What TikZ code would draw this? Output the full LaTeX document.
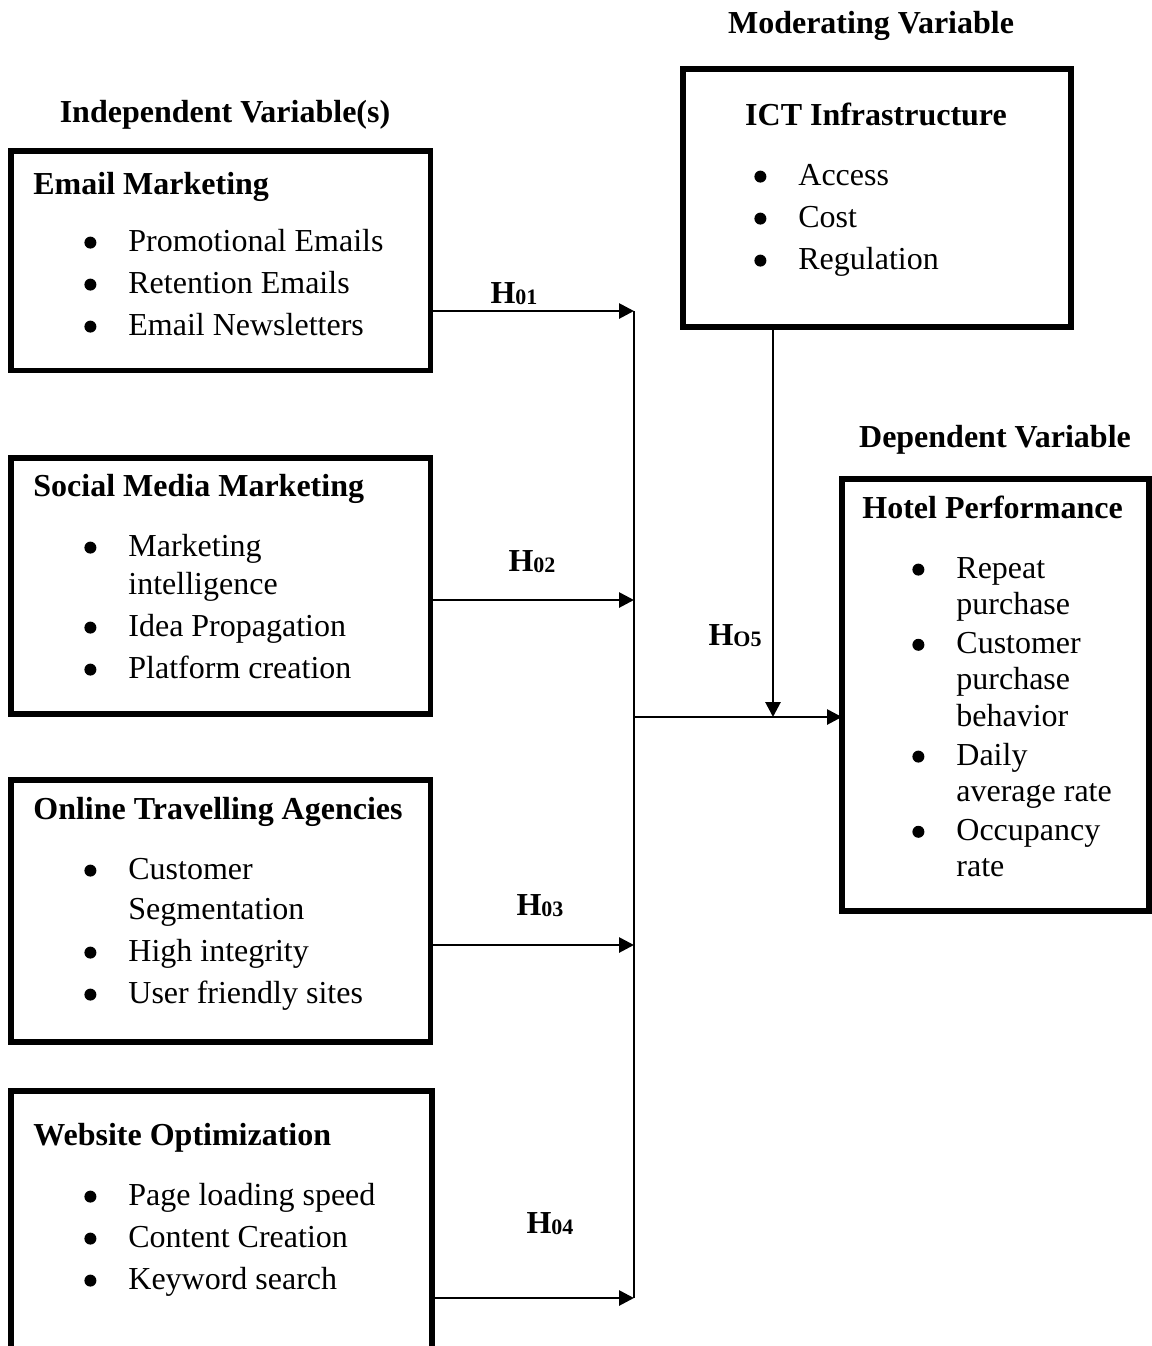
\documentclass[tikz,border=0pt]{standalone}
\usepackage{fontspec}
\setmainfont{Liberation Serif}
\usetikzlibrary{arrows.meta}
\tikzset{
  varBox/.style={draw, line width=2.6pt, anchor=north west, inner sep=0pt, outer sep=0pt},
  boxTitle/.style={anchor=base west, inner sep=0pt, font=\fontsize{16}{19}\selectfont\bfseries},
  headTitle/.style={anchor=base, inner sep=0pt, font=\fontsize{16}{19}\selectfont\bfseries},
  itemList/.style={anchor=base west, inner sep=0pt, align=left, font=\fontsize{16}{21}\selectfont},
  hypLabel/.style={anchor=base, inner sep=0pt, font=\fontsize{16}{19}\selectfont\bfseries},
  link/.style={line width=1.4pt, -{Triangle[length=7.5pt,width=7.5pt]}},
}
\newcommand{\bul}{\makebox[22pt][l]{\tikz[baseline={(0,-4.2pt)}]\fill (3pt,0) circle (3pt);}}
\newcommand{\hsub}[1]{H\raisebox{-0.5pt}{\fontsize{11}{11}\selectfont\bfseries #1}}

\begin{document}
\begin{tikzpicture}[x=0.5pt, y=-0.5pt]
        \useasboundingbox (0,0) rectangle (1152,1346);
        \clip (0,0) rectangle (1152,1346);
        % headings
        \node[headTitle] (indHead) at (225,122) {Independent Variable(s)};
        \node[headTitle] (modHead) at (871,33) {Moderating Variable};
        \node[headTitle] (depHead) at (995,447) {Dependent Variable};
        % independent variables
        \node[varBox, minimum width=209.75pt, minimum height=109.75pt] (email) at (11,151) {};
        \node[boxTitle] (emailTitle) at (33,194) {Email Marketing};
        \node[itemList] (emailList) at (84,251) {\begin{tabular}[t]{@{}l@{}l@{}}
          \bul & Promotional Emails\\
          \bul & Retention Emails\\
          \bul & Email Newsletters
        \end{tabular}};
        \node[varBox, minimum width=209.75pt, minimum height=128pt] (social) at (11,458) {};
        \node[boxTitle] (socialTitle) at (33,496) {Social Media Marketing};
        \node[itemList] (socialList) at (84,556) {\begin{tabular}[t]{@{}l@{}l@{}}
          \bul & Marketing\\[-2pt]
               & intelligence\\
          \bul & Idea Propagation\\
          \bul & Platform creation
        \end{tabular}};
        \node[varBox, minimum width=209.75pt, minimum height=131pt] (ota) at (11,780) {};
        \node[boxTitle] (otaTitle) at (33,819) {Online Travelling Agencies};
        \node[itemList] (otaList) at (84,879) {\begin{tabular}[t]{@{}l@{}l@{}}
          \bul & Customer\\[-1pt]
               & Segmentation\\
          \bul & High integrity\\
          \bul & User friendly sites
        \end{tabular}};
        \node[varBox, minimum width=210.5pt, minimum height=150pt] (website) at (11,1091) {};
        \node[boxTitle] (websiteTitle) at (33,1145) {Website Optimization};
        \node[itemList] (websiteList) at (84,1205) {\begin{tabular}[t]{@{}l@{}l@{}}
          \bul & Page loading speed\\
          \bul & Content Creation\\
          \bul & Keyword search
        \end{tabular}};
        % moderating variable
        \node[varBox, minimum width=194pt, minimum height=129pt] (ict) at (683,69) {};
        \node[headTitle] (ictTitle) at (876,125) {ICT Infrastructure};
        \node[itemList] (ictList) at (754,185) {\begin{tabular}[t]{@{}l@{}l@{}}
          \bul & Access\\
          \bul & Cost\\
          \bul & Regulation
        \end{tabular}};
        % dependent variable
        \node[varBox, minimum width=153.5pt, minimum height=216pt] (hotel) at (842,479) {};
        \node[boxTitle] (hotelTitle) at (862,518) {Hotel Performance};
        \node[itemList, font=\fontsize{16}{19.3}\selectfont] (hotelList) at (912,578) {\begin{tabular}[t]{@{}l@{}l@{}}
          \bul & Repeat\\[-1pt]
               & purchase\\
          \bul & Customer\\[-1pt]
               & purchase\\[-1pt]
               & behavior\\
          \bul & Daily\\[-1pt]
               & average rate\\
          \bul & Occupancy\\[-1pt]
               & rate
        \end{tabular}};
        % connectors
        \coordinate (j1) at (634,311);
        \coordinate (j2) at (634,600);
        \coordinate (j3) at (634,945);
        \coordinate (j4) at (634,1298);
        \coordinate (jm) at (634,717);
        \coordinate (mod) at (773,717);
        \draw[line width=1pt] (j1) -- (j4);
        \draw[link] (email.east |- j1) -- (j1);
        \draw[link] (social.east |- j2) -- (j2);
        \draw[link] (ota.east |- j3) -- (j3);
        \draw[link] (website.east |- j4) -- (j4);
        \draw[link] (jm) -- (hotel.west |- jm);
        \draw[link] (ict.south -| mod) -- (mod);
        % hypotheses
        \node[hypLabel] (h1) at (514,303) {\hsub{01}};
        \node[hypLabel] (h2) at (532,571) {\hsub{02}};
        \node[hypLabel] (h3) at (540,915) {\hsub{03}};
        \node[hypLabel] (h4) at (550,1233) {\hsub{04}};
        \node[hypLabel] (h5) at (735,645) {\hsub{O5}};
\end{tikzpicture}
\end{document}
